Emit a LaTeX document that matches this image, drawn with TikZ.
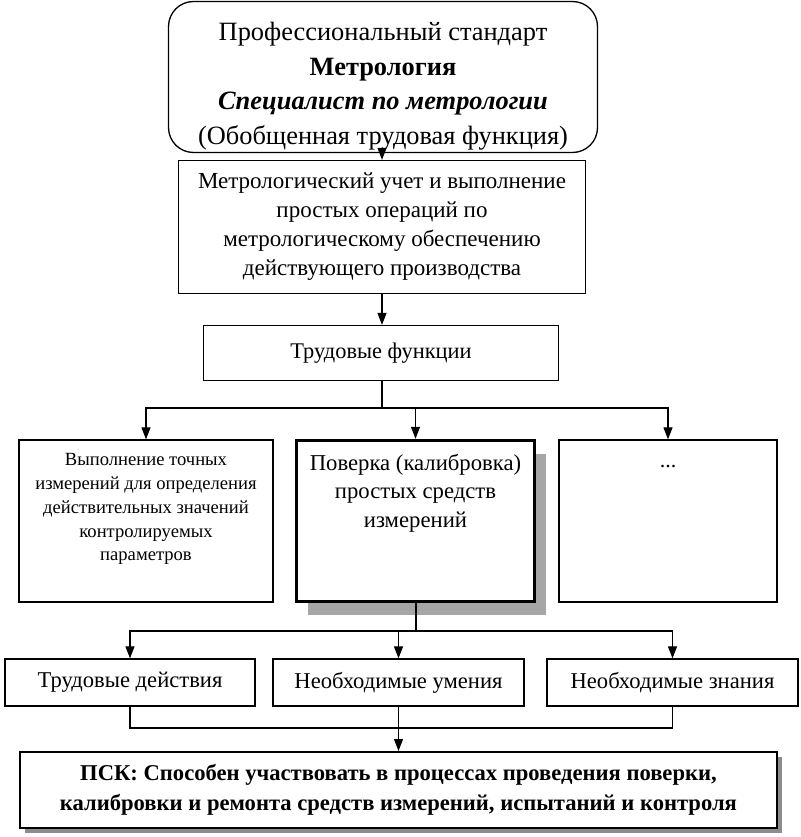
\documentclass[tikz,border=0pt]{standalone}
\usepackage{fontspec}
\setmainfont{Liberation Serif}
\usetikzlibrary{arrows.meta,shadows}
\newcommand{\fs}[2]{\fontsize{#1}{#2}\selectfont}
\tikzset{
  box/.style={draw, line width=1.3pt, fill=white, inner sep=0pt, align=center},
  conn/.style={line width=1.1pt},
  arr/.style={conn, -{Triangle[length=12pt,width=9pt]}},
  boxtext/.style={inner sep=0pt, align=center, anchor=north}
}
\begin{document}
\begin{tikzpicture}[x=1pt, y=-1pt]
\useasboundingbox (0,0) rectangle (800,837);
% top of the chain
\node[box, rounded corners=25pt, minimum width=429pt, minimum height=151pt] (std) at (383,77) {};
\node[boxtext, anchor=center, font=\fs{26.4}{34.5}] (stdtext) at (383,86)
  {Профессиональный стандарт\\ \textbf{Метрология}\\ \textbf{\textit{Специалист по метрологии}}\\ (Обобщенная трудовая функция)};
\node[box, minimum width=407pt, minimum height=133pt, font=\fs{23}{29}] (gtf) at (382,227)
  {Метрологический учет и выполнение\\ простых операций по\\ метрологическому обеспечению\\ действующего производства};
\node[box, minimum width=355pt, minimum height=55pt, font=\fs{22.4}{28}] (tf) at (381,353) {Трудовые функции};
\draw[arr] (std.south -| gtf.north) -- (gtf.north);
\draw[arr] (gtf.south) -- (gtf.south |- tf.north);
% labour functions
\node[box, minimum width=254pt, minimum height=162pt] (meas) at (146,521) {};
\node[box, line width=3.5pt, minimum width=238pt, minimum height=161pt,
  drop shadow={shadow xshift=11pt, shadow yshift=-13pt, fill=black!35, opacity=1}] (verif) at (415.5,521) {};
\node[box, minimum width=218pt, minimum height=162pt] (more) at (668,521) {};
\node[boxtext, font=\fs{18.6}{23.8}] (meastext) at ([yshift=-14pt]meas.north)
  {Выполнение точных\\ измерений для определения\\ действительных значений\\ контролируемых\\ параметров};
\node[boxtext, font=\fs{22.7}{28.5}] (veriftext) at ([yshift=-15pt]verif.north)
  {Поверка (калибровка)\\ простых средств\\ измерений};
\node[boxtext, font=\fs{22}{28}] (moretext) at ([yshift=-26pt]more.north) {...};
\coordinate (split1) at (382,408);
\draw[conn] (tf.south -| split1) -- (split1);
\draw[arr] (split1) -| (meas.north);
\draw[arr] (split1) -| (verif.north);
\draw[arr] (split1) -| (more.north);
% actions, skills, knowledge
\node[box, minimum width=250pt, minimum height=47pt, font=\fs{22.6}{28}] (act) at (130,682.5) {Трудовые действия};
\node[box, minimum width=251pt, minimum height=47pt, font=\fs{22.6}{28}] (skill) at (398.5,682.5) {Необходимые умения};
\node[box, minimum width=251pt, minimum height=47pt, font=\fs{22.6}{28}] (know) at (672.5,682.5) {Необходимые знания};
\coordinate (split2) at (416,631);
\draw[conn] (verif.south -| split2) -- (split2);
\draw[arr] (split2) -| (act.north);
\draw[arr] (split2) -| (skill.north);
\draw[arr] (split2) -| (know.north);
% result
\node[box, line width=2pt, minimum width=757pt, minimum height=76pt, font=\bfseries\fs{22.6}{30},
  drop shadow={shadow xshift=5pt, shadow yshift=-5pt, fill=black!45, opacity=1}] (psk) at (398.5,790)
  {ПСК: Способен участвовать в процессах проведения поверки,\\ калибровки и ремонта средств измерений, испытаний и контроля};
\coordinate (join) at (398.5,728);
\draw[conn] (act.south) |- (join);
\draw[conn] (know.south) |- (join);
\draw[arr] (skill.south) -- (psk.north);
\end{tikzpicture}
\end{document}
